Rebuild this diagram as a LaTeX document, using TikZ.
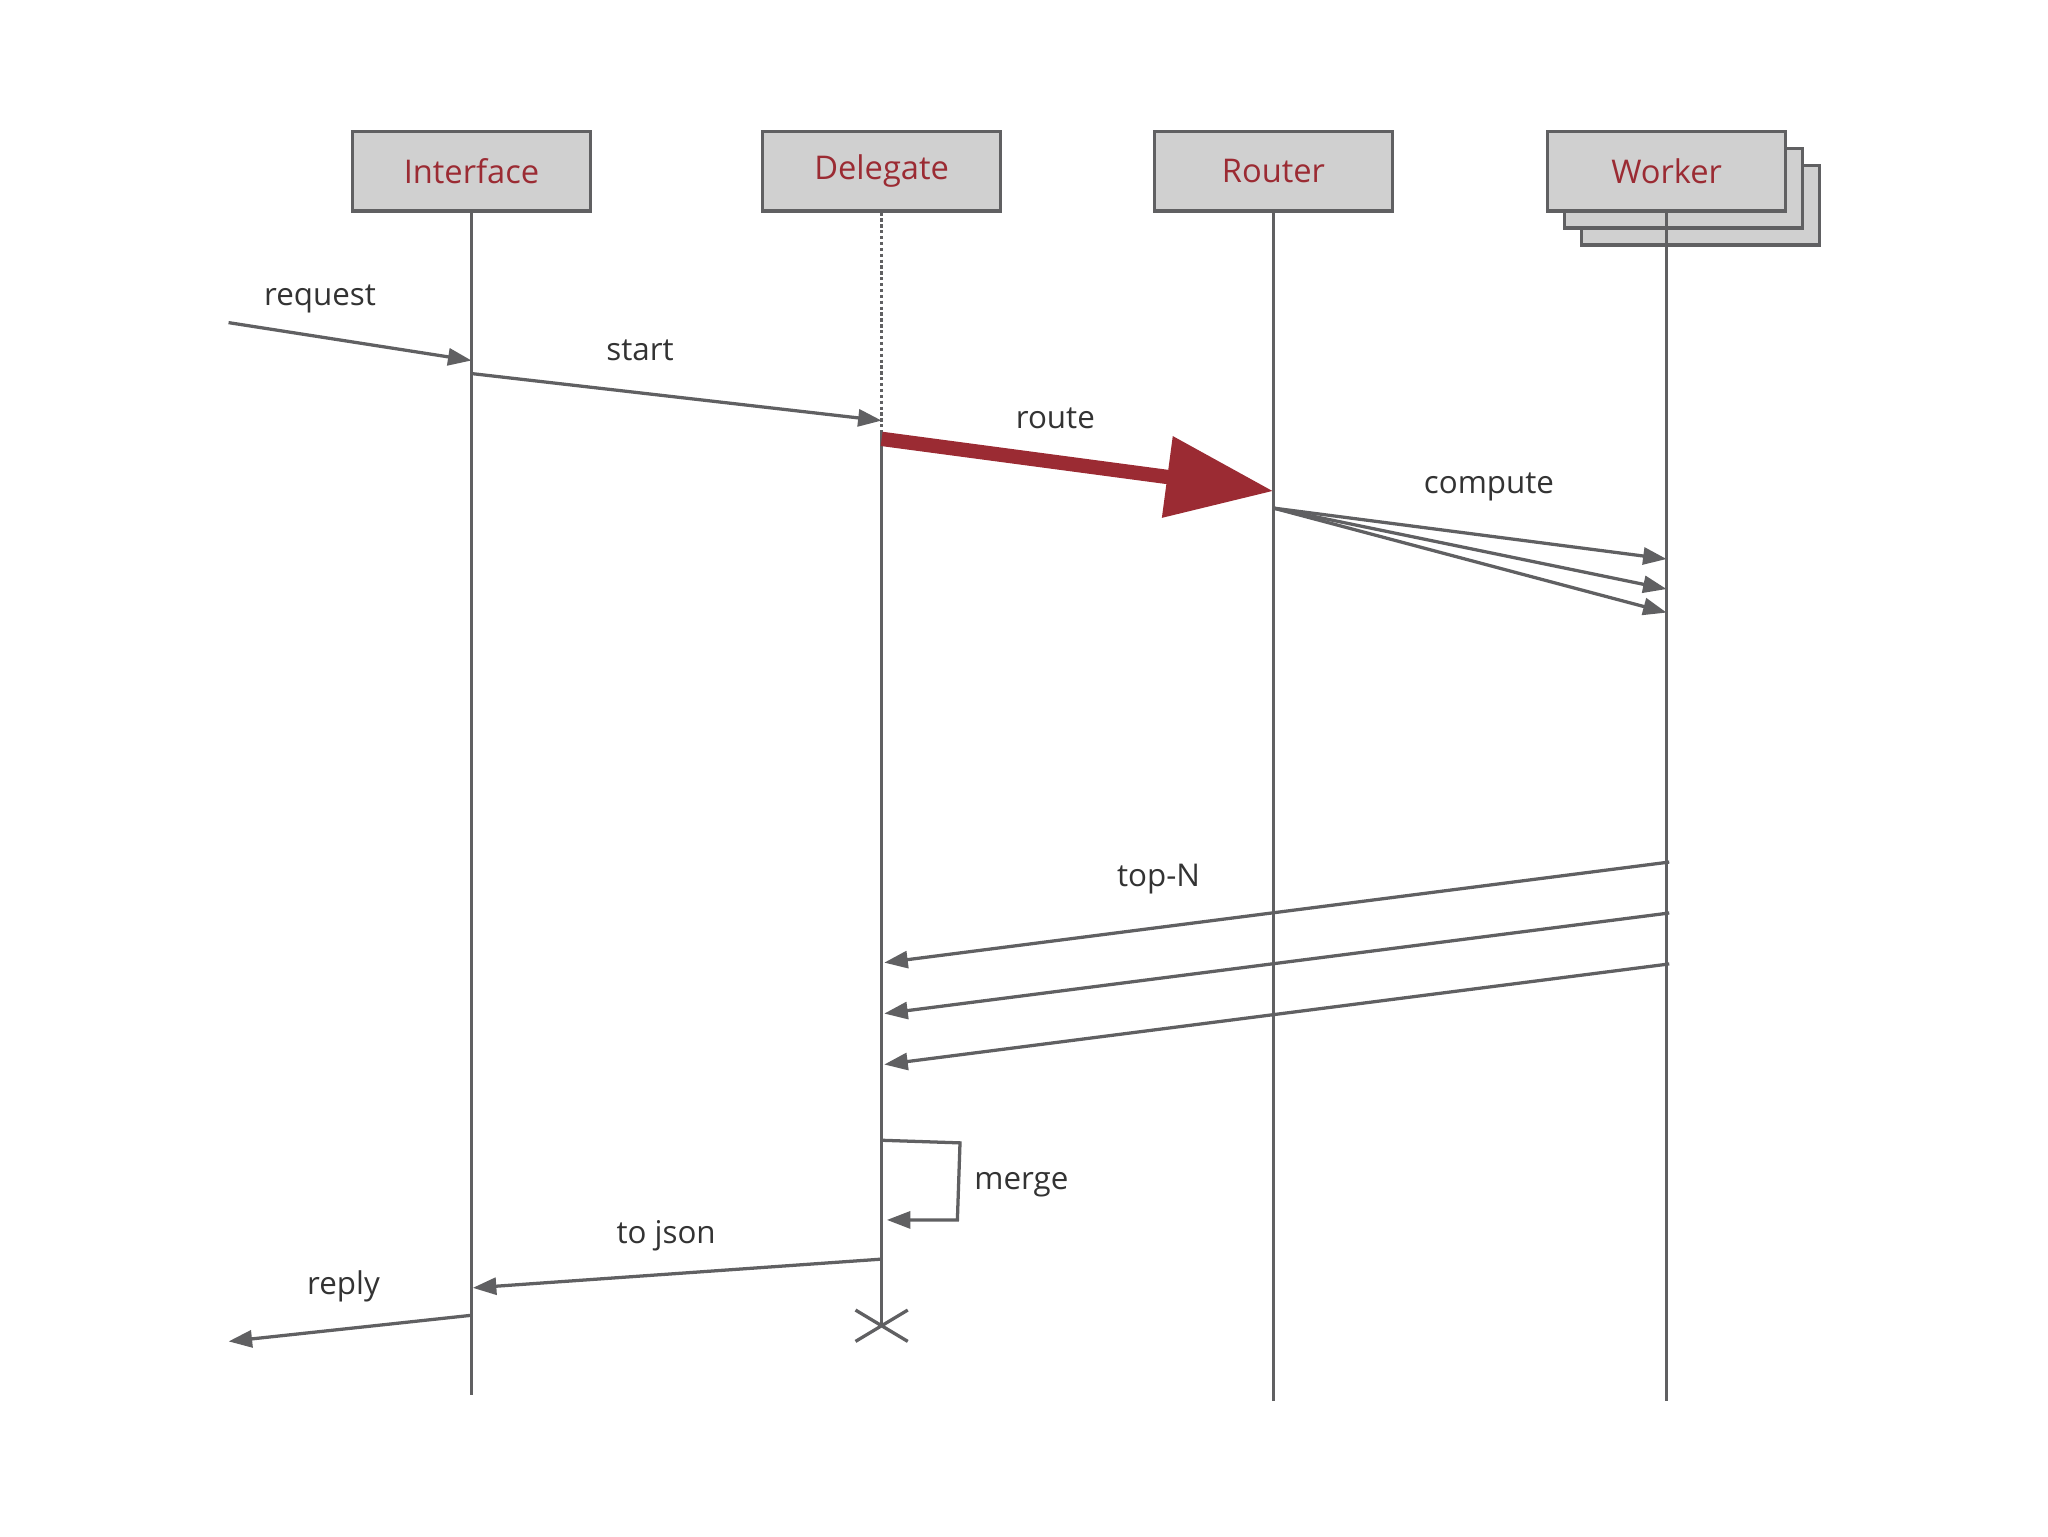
\documentclass[tikz,border=0pt]{standalone}
\usepackage{fontspec}
\setmainfont{Open Sans}
\usetikzlibrary{arrows.meta}
\definecolor{ln}{HTML}{606062}
\definecolor{bx}{HTML}{D0D0D0}
\definecolor{rd}{HTML}{9B2B33}
\definecolor{tx}{HTML}{333333}
\tikzset{
 x=1pt,y=-1pt,
 actor/.style={draw=ln,fill=bx,line width=2.5pt,minimum width=182pt,minimum height=61pt,inner sep=0pt,text=rd,font=\fontsize{25}{30}\selectfont},
 life/.style={draw=ln,line width=2.5pt},
 msg/.style={draw=ln,line width=2.5pt,-{Triangle[length=18pt,width=13pt]}},
 lbl/.style={text=tx,font=\fontsize{24}{29}\selectfont,inner sep=0pt}
}
\begin{document}
\begin{tikzpicture}
\fill[white] (0,0) rectangle (1568,1176);
\useasboundingbox (0,0) rectangle (1568,1176);
\node[actor] (w3) at (1302,157) {};
\node[actor] (w2) at (1289,144) {};
\node[actor] (int) at (361,131) {Interface};
\node[actor] (del) at (675,131) {Delegate};
\node[actor] (rou) at (975,131) {Router};
\node[actor] (wor) at (1276,131) {Worker};
% lifelines
\coordinate (dact) at (675,330);
\coordinate (iend) at (361,1068);
\coordinate (dend) at (675,1015);
\coordinate (rend) at (975,1073);
\coordinate (wend) at (1276,1073);
\draw[life] (int.south) -- (iend);
\draw[ln,line width=2.5pt,dotted] (del.south) -- (dact);
\draw[life] (dact) -- (dend);
\draw[life] (rou.south) -- (rend);
\draw[life] (wor.south) -- (wend);
\draw[ln,line width=2.5pt] ([shift={(-20,-12)}]dend) -- ([shift={(20,12)}]dend) ([shift={(-20,12)}]dend) -- ([shift={(20,-12)}]dend);
% request
\coordinate (rqs) at (175,247); \coordinate (rqe) at (361,276);
\draw[msg] (rqs) -- (rqe);
\node[lbl] (lrq) at (245,229) {request};
\coordinate (sts) at (361,286); \coordinate (ste) at (675,322);
\draw[msg] (sts) -- (ste);
\node[lbl] (lst) at (490,268) {start};
\coordinate (ros) at (675,336); \coordinate (roe) at (975,376);
\draw[rd,line width=11pt,-{Triangle[length=82pt,width=60pt]}] (ros) -- (roe);
\node[lbl] (lro) at (808,320) {route};
\coordinate (cs) at (975,389);
\coordinate (c1) at (1276,428); \coordinate (c2) at (1276,451); \coordinate (c3) at (1276,469);
\draw[msg] (cs) -- (c1); \draw[msg] (cs) -- (c2); \draw[msg] (cs) -- (c3);
\node[lbl] (lco) at (1140,373) {compute};
\coordinate (t1s) at (1278,660); \coordinate (t1e) at (677,737);
\coordinate (t2s) at (1278,699); \coordinate (t2e) at (677,776);
\coordinate (t3s) at (1278,738); \coordinate (t3e) at (677,815);
\draw[msg] (t1s) -- (t1e); \draw[msg] (t2s) -- (t2e); \draw[msg] (t3s) -- (t3e);
\node[lbl] (ltn) at (887,673) {top-N};
\coordinate (ms) at (675,873); \coordinate (me) at (679,934);
\draw[msg] (ms) -- (735,875) -- (733,934) -- (me);
\node[lbl] (lme) at (782,907) {merge};
\coordinate (js) at (675,964); \coordinate (je) at (362,986);
\draw[msg] (js) -- (je);
\node[lbl] (ljs) at (510,946) {to json};
\coordinate (rps) at (361,1007); \coordinate (rpe) at (175,1027);
\draw[msg] (rps) -- (rpe);
\node[lbl] (lrp) at (263,985) {reply};
\end{tikzpicture}
\end{document}
